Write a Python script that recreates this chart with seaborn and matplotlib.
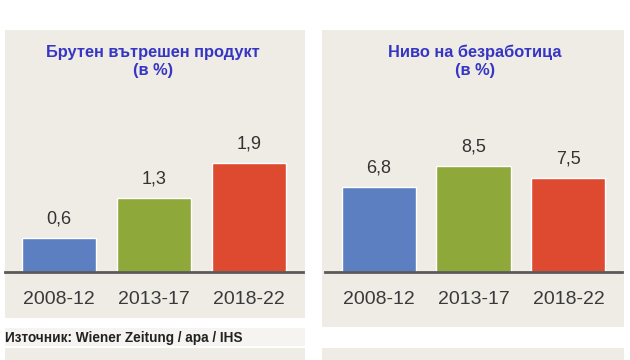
import matplotlib
matplotlib.use("Agg")
import matplotlib.pyplot as plt
from matplotlib.patches import Rectangle
import seaborn as sns
import pandas as pd

periods = ["2008-12", "2013-17", "2018-22"]
gdp_values = [0.6, 1.3, 1.9]
unemployment_values = [6.8, 8.5, 7.5]
bar_colors = ["#5b7fc0", "#8fa83a", "#dd4a30"]
title_gdp = "Брутен вътрешен продукт\n(в %)"
title_unemp = "Ниво на безработица\n(в %)"
source_text = "Източник: Wiener Zeitung / apa / IHS"

sns.set_theme(style="white")
plt.rcParams["font.family"] = ["Liberation Sans", "DejaVu Sans"]

W, H = 630, 360
fig = plt.figure(figsize=(6.3, 3.6), dpi=100)
fig.patch.set_facecolor("white")

beige = "#efebe5"
def panel(x0, y0, x1, y1, color=beige):
    fig.patches.append(Rectangle((x0 / W, 1 - y1 / H), (x1 - x0) / W, (y1 - y0) / H,
                                 transform=fig.transFigure, facecolor=color,
                                 edgecolor="none", zorder=-5))

panel(5, 30, 305, 318)
panel(322, 30, 624, 327)
panel(5, 328, 305, 346, "#f6f4f1")
panel(5, 348, 305, 360)
panel(322, 348, 624, 360)

def make_axes(x0, x1, values, ylim_top):
    bottom = (H - 272) / H
    height = 242 / H
    ax = fig.add_axes([x0 / W, bottom, (x1 - x0) / W, height])
    ax.set_zorder(2)
    ax.set_facecolor("none")
    df = pd.DataFrame({"period": periods, "value": values})
    sns.barplot(data=df, x="period", y="value", hue="period", palette=bar_colors,
                width=0.78, legend=False, ax=ax, saturation=1)
    ax.set_xlim(-0.565, 2.565)
    ax.set_ylim(0, ylim_top)
    for s in ["top", "right", "left"]:
        ax.spines[s].set_visible(False)
    ax.spines["bottom"].set_color("#5a5a5a")
    ax.spines["bottom"].set_linewidth(2)
    ax.spines["bottom"].set_zorder(5)
    ax.set_yticks([])
    ax.set_xlabel("")
    ax.set_ylabel("")
    ax.tick_params(axis="x", length=0, pad=14, labelsize=14, labelcolor="#3a3a3a")
    for cont in ax.containers:
        ax.bar_label(cont, labels=[f"{v:.1f}".replace(".", ",") for v in cont.datavalues],
                     padding=7.5, fontsize=13, color="#333333")
    return ax

ax1 = make_axes(5, 303, gdp_values, 242 / 57.3)
ax2 = make_axes(325, 622, unemployment_values, 242 / 12.5)

title_color = "#3636c4"
fig.text(153 / W, 1 - 61 / H, title_gdp, ha="center", va="center", fontsize=11.8,
         fontweight="bold", color=title_color, linespacing=1.25)
fig.text(475 / W, 1 - 61 / H, title_unemp, ha="center", va="center", fontsize=11.8,
         fontweight="bold", color=title_color, linespacing=1.25)

fig.text(5 / W, 1 - 338 / H, source_text, ha="left", va="center", fontsize=9.8,
         fontweight="bold", color="#222222")

fig.savefig("out.png", dpi=100)
